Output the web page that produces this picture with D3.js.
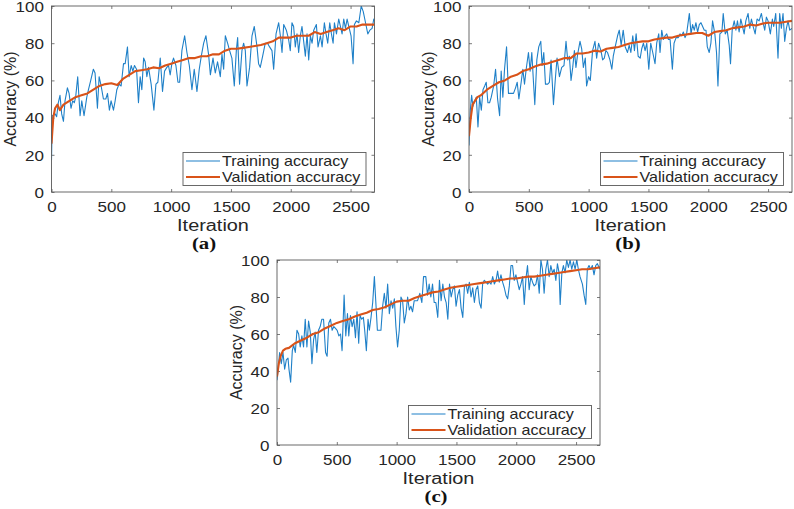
<!DOCTYPE html>
<html><head><meta charset="utf-8">
<script src="https://cdn.jsdelivr.net/npm/d3@7"></script>
<style>body{margin:0;background:#fff}svg{display:block}</style>
</head><body><svg id="fig" width="794" height="509"></svg>
<script>
// ---------------- data ----------------
const xTicks = [0, 500, 1000, 1500, 2000, 2500];
const yTicks = [0, 20, 40, 60, 80, 100];
const panelLabels = ["(a)", "(b)", "(c)"];
const seriesNames = ["Training accuracy", "Validation accuracy"];
const xLabel = "Iteration";
const yLabel = "Accuracy (%)";

const trainIterA = [0,7,30,43,57,71,85,100,113,133,147,163,177,191,202,219,239,253,272,295,309,328,350,364,384,398,415,434,454,468,484,498,518,532,546,565,582,602,616,635,649,666,680,694,711,727,741,755,770,783,797,811,833,856,873,889,909,928,945,964,978,992,1006,1020,1040,1057,1071,1090,1113,1132,1152,1174,1193,1216,1235,1252,1272,1291,1313,1328,1350,1369,1388,1411,1425,1439,1453,1472,1489,1508,1528,1545,1556,1572,1592,1606,1620,1634,1656,1676,1695,1718,1731,1745,1765,1787,1806,1823,1843,1857,1877,1899,1913,1927,1941,1963,1982,1996,2010,2024,2038,2052,2066,2080,2094,2108,2122,2136,2150,2164,2178,2192,2214,2228,2248,2262,2281,2295,2309,2326,2340,2354,2365,2382,2401,2415,2429,2443,2457,2471,2485,2504,2521,2532,2549,2569,2589,2606,2625,2644,2661,2680,2694,2700];
const trainAccA  = [17,41,42,40.5,48,52,42,38,49,56,53,45,49,48,51,62,41,49,41,51,55,60,66,64,45,62,57,50,50,53,44,49,44,49,55,58,57,69,69,78,62,68,65,68,66,48,62,55,72,70,62,67,58,44,58,59,72,54,65,67,68,63,69,72,68,59,59,76,84,75,68,55,66,54,66,73,80,84,74,63,72,64,70,62,74,66,84,80,76,72,57,76,83,58,76,80,76,57,67,84,89,78,69,67,73,80,80,78,76,66,85,91,84,75,90,87,82,76,91,89,78,85,75,84,89,81,73,85,71,84,80,87,90,78,84,78,91,85,80,91,85,80,91,85,93,89,85,93,88,93,89,84,69,90,92,91,100,97,91,85,87,88,93,92];

const trainIterB = [0,11,22,33,47,61,75,89,103,117,131,144,158,172,186,206,222,239,256,269,283,297,314,330,353,372,389,403,417,436,450,464,478,497,511,525,539,550,567,583,600,611,625,639,658,672,686,706,722,736,756,775,794,811,825,839,853,867,881,894,908,928,942,956,972,983,1000,1014,1033,1053,1067,1083,1103,1117,1131,1144,1158,1178,1194,1206,1222,1242,1256,1272,1289,1306,1325,1339,1353,1369,1383,1397,1414,1431,1444,1458,1472,1486,1503,1519,1536,1555,1569,1586,1597,1611,1625,1639,1653,1667,1681,1700,1714,1731,1750,1764,1778,1792,1806,1819,1842,1856,1869,1883,1897,1911,1925,1939,1953,1967,1981,1992,2008,2022,2036,2055,2069,2081,2097,2114,2125,2142,2158,2175,2186,2200,2217,2231,2244,2258,2272,2286,2300,2314,2333,2347,2361,2375,2392,2408,2425,2444,2458,2472,2486,2500,2519,2536,2547,2564,2583,2597,2611,2625,2639,2653,2667,2681,2700];
const trainAccB  = [25,44,52,46,49,51,35,51,44,55,57,59,48,48,51,57,66,50,41,65,51,66,78,53,53,53,56,59,50,59,66,58,66,75,65,75,59,47,71,78,81,68,75,58,58,59,71,47,61,72,62,67,68,81,71,73,60,67,76,67,74,81,77,67,72,57,62,60,76,81,72,80,76,71,72,76,75,71,66,73,78,84,87,79,87,78,75,79,75,84,76,85,73,72,77,80,76,80,66,80,75,69,80,85,75,87,82,84,85,82,82,66,80,83,83,85,84,86,83,85,96,85,90,87,91,86,90,91,89,87,87,78,75,80,92,85,75,57,85,86,96,85,87,79,69,87,92,87,92,86,93,89,85,92,96,88,93,89,85,93,92,96,91,87,94,92,85,93,89,96,72,96,88,96,81,88,92,87,88];

const trainIterC = [0,11,22,36,50,64,78,92,100,114,128,139,153,167,181,194,208,222,236,250,264,278,292,306,319,333,347,361,375,389,406,419,433,447,461,475,489,503,517,531,544,561,575,589,600,614,628,642,656,669,683,694,708,722,733,747,761,772,786,800,814,828,839,856,869,883,897,911,925,939,953,967,981,994,1008,1022,1036,1050,1064,1078,1092,1106,1119,1133,1147,1161,1175,1194,1211,1225,1244,1258,1272,1286,1300,1314,1328,1344,1358,1372,1386,1400,1414,1428,1442,1456,1469,1483,1497,1511,1525,1539,1553,1567,1581,1594,1608,1622,1636,1650,1664,1678,1692,1706,1719,1733,1747,1761,1775,1789,1803,1817,1831,1844,1858,1872,1886,1900,1914,1928,1942,1956,1969,1983,1997,2011,2025,2039,2053,2067,2081,2094,2108,2122,2136,2150,2164,2178,2192,2206,2219,2233,2247,2261,2275,2289,2303,2317,2331,2344,2358,2367,2381,2394,2408,2422,2436,2450,2464,2478,2492,2506,2519,2533,2553,2567,2581,2594,2608,2622,2636,2650,2664,2678,2700];
const trainAccC  = [35,42,50,44,50,41,46,47,41,34,51,54,50,62,60,53,59,53,68,53,67,61,44,57,61,50,62,64,68,68,50,48,66,68,62,64,63,62,59,60,51,81,59,71,59,70,64,68,58,72,55,70,68,69,62,51,68,62,69,77,91,75,62,62,62,75,82,74,87,71,78,74,79,64,53,62,80,78,66,71,80,73,75,72,78,78,78,82,77,91,91,81,87,80,87,77,77,69,89,78,87,80,77,68,87,80,84,86,75,81,84,74,69,86,87,82,88,80,85,77,84,86,77,74,87,89,88,87,88,87,91,87,89,94,88,92,88,85,81,79,86,97,97,89,92,88,84,87,91,76,90,97,84,91,88,86,87,92,82,100,95,82,95,100,91,97,93,95,89,98,93,76,93,97,93,100,96,100,95,99,95,100,95,91,87,81,76,95,97,95,97,92,97,98,95];

const valIter = [0,15,30,50,70,100,150,200,250,300,350,400,450,500,550,600,650,700,750,800,850,900,950,1000,1050,1100,1150,1200,1250,1300,1350,1400,1450,1500,1550,1600,1650,1700,1750,1800,1850,1900,1950,2000,2050,2100,2150,2200,2250,2300,2350,2400,2450,2500,2550,2600,2650,2700];
const valAccA = [26,40,45,47,44,47,49,51,52,53,55,57,58,58.5,57.5,61,63,65,65.5,66,67,66.5,68,69,70,71,72,72,73,73,74,74,76,77,77,77.5,78,78.5,79,80,81,83,83,83,84,84,84,86,85,86,87,88,87,89,89,90,90,90];
const valAccB = [30,40,47,49,51,52,55,57,59,60,62,63,65,66,67.5,68.5,69,70,71,72,72,74.5,74.5,75,76,75.5,77,77.5,78,79,80,80.5,81,81,82,82.5,83,83,84,84.5,85,85.5,85.5,84,86,86.5,87,88,88.5,89,90,89.5,90.5,91,91,91,91.5,92];
const valAccC = [37,44,48,51,52,52.5,55,56.5,58,60,61,63,64.5,66,67,68,69.5,70.5,71.5,73,73.5,74.5,76,77.5,78,78,79.5,80.5,81.5,82.5,83,84,85,85.5,86,86.5,87,87.5,88,88.5,89,89.5,90,90,90.5,91,91,91.5,92,92.5,93,93.5,94,94.5,95,95,95.5,96];

// ---------------- layout ----------------
const panels = [
  {label: panelLabels[0], tx: trainIterA, ty: trainAccA, vy: valAccA, left: 51.5, right: 374.5, top: 6,   bottom: 192, labX: 204},
  {label: panelLabels[1], tx: trainIterB, ty: trainAccB, vy: valAccB, left: 469,  right: 792,   top: 6,   bottom: 192, labX: 628},
  {label: panelLabels[2], tx: trainIterC, ty: trainAccC, vy: valAccC, left: 277,  right: 600,   top: 260, bottom: 445, labX: 436}
];
const SX = 1.15;             // horizontal text stretch of the reference
const FONT = "'Liberation Sans', Arial, Helvetica, sans-serif";
const TXT = "#262626";
const AXC = "#5a5a5a";
const BLUE = "#1f80c8";
const ORANGE = "#d95319";

const svg = d3.select("#fig");

panels.forEach((p, i) => {
  const x = d3.scaleLinear().domain([0, 2700]).range([p.left, p.right]);
  const y = d3.scaleLinear().domain([0, 100]).range([p.bottom, p.top]);
  const g = svg.append("g");

  const clipId = "clip" + i;
  svg.append("clipPath").attr("id", clipId).append("rect")
    .attr("x", p.left).attr("y", p.top).attr("width", p.right - p.left).attr("height", p.bottom - p.top);

  g.append("rect").attr("x", p.left).attr("y", p.top)
    .attr("width", p.right - p.left).attr("height", p.bottom - p.top)
    .attr("fill", "#fff");

  // axes (ticks inside)
  const fmt = d3.format("d");
  const axB = g.append("g").attr("transform", `translate(0,${p.bottom})`)
    .call(d3.axisBottom(x).tickValues(xTicks).tickFormat(fmt).tickSizeInner(-3).tickSizeOuter(0));
  const axT = g.append("g").attr("transform", `translate(0,${p.top})`)
    .call(d3.axisTop(x).tickValues(xTicks).tickSizeInner(-3).tickSizeOuter(0).tickFormat(""));
  const axL = g.append("g").attr("transform", `translate(${p.left},0)`)
    .call(d3.axisLeft(y).tickValues(yTicks).tickFormat(fmt).tickSizeInner(-3).tickSizeOuter(0));
  const axR = g.append("g").attr("transform", `translate(${p.right},0)`)
    .call(d3.axisRight(y).tickValues(yTicks).tickSizeInner(-3).tickSizeOuter(0).tickFormat(""));
  [axB, axT, axL, axR].forEach(a => {
    a.select(".domain").remove();
    a.selectAll("line").attr("stroke", AXC).attr("stroke-width", 0.8);
  });
  axB.selectAll("text")
    .attr("y", 0).attr("dy", 0)
    .attr("transform", `translate(0,20) scale(${SX},1)`)
    .attr("font-family", FONT).attr("font-size", 14.8).attr("fill", TXT);
  axL.selectAll("text")
    .attr("x", 0).attr("dy", "0.36em")
    .attr("transform", `translate(-7.5,0) scale(${SX},1)`)
    .attr("font-family", FONT).attr("font-size", 14.8).attr("fill", TXT);

  // lines
  const lineT = d3.line().x((d, k) => x(p.tx[k])).y(d => y(d));
  const lineV = d3.line().x((d, k) => x(valIter[k])).y(d => y(d));
  const lg = g.append("g").attr("clip-path", `url(#${clipId})`);
  lg.append("path").datum(p.ty).attr("d", lineT)
    .attr("fill", "none").attr("stroke", BLUE).attr("stroke-width", 1.1).attr("stroke-linejoin", "round");
  lg.append("path").datum(p.vy).attr("d", lineV)
    .attr("fill", "none").attr("stroke", ORANGE).attr("stroke-width", 2.1).attr("stroke-linejoin", "round");

  // box
  g.append("rect").attr("x", p.left).attr("y", p.top)
    .attr("width", p.right - p.left).attr("height", p.bottom - p.top)
    .attr("fill", "none").attr("stroke", AXC).attr("stroke-width", 0.9);

  // legend
  const lw = 183, lh = 33;
  const lx = p.right - 8.5 - lw, ly = p.bottom - 6.5 - lh;
  const leg = g.append("g").attr("transform", `translate(${lx},${ly})`);
  leg.append("rect").attr("width", lw).attr("height", lh)
    .attr("fill", "#fff").attr("stroke", AXC).attr("stroke-width", 0.9);
  const legColors = [BLUE, ORANGE], legW = [1.1, 2.1];
  seriesNames.forEach((name, k) => {
    const cy = 8.5 + k * 16;
    leg.append("line").attr("x1", 3).attr("x2", 37).attr("y1", cy).attr("y2", cy)
      .attr("stroke", legColors[k]).attr("stroke-width", legW[k]);
    leg.append("text").text(name)
      .attr("transform", `translate(39,${cy + 5}) scale(${SX},1)`)
      .attr("font-family", FONT).attr("font-size", 14).attr("fill", TXT);
  });

  // axis labels
  const cx = (p.left + p.right) / 2, cyMid = (p.top + p.bottom) / 2;
  g.append("text").text(xLabel)
    .attr("text-anchor", "middle")
    .attr("transform", `translate(${cx},${p.bottom + 38.5}) scale(${SX},1)`)
    .attr("font-family", FONT).attr("font-size", 17.3).attr("fill", TXT);
  g.append("text").text(yLabel)
    .attr("text-anchor", "middle")
    .attr("transform", `translate(${p.left - 35.5},${cyMid}) rotate(-90)`)
    .attr("font-family", FONT).attr("font-size", 16).attr("fill", TXT);

  // panel label
  g.append("text").text(p.label)
    .attr("text-anchor", "middle")
    .attr("transform", `translate(${p.labX},${p.bottom + 57}) scale(1.3,1)`)
    .attr("font-family", "'Liberation Serif', 'Times New Roman', serif")
    .attr("font-weight", "bold").attr("font-size", 16).attr("fill", "#111");
});
</script>
</body></html>
